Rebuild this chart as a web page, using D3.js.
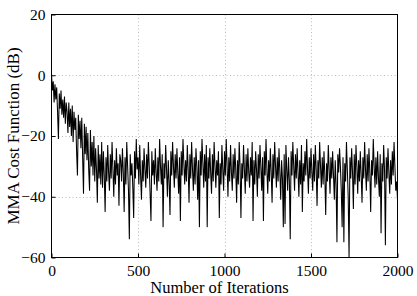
<!DOCTYPE html>
<html>
<head>
<meta charset="utf-8">
<script src="https://cdn.jsdelivr.net/npm/d3@7"></script>
<style>
  body { margin: 0; background: #fff; }
  text { font-family: "Liberation Serif", "DejaVu Serif", serif; fill: #000; }
</style>
</head>
<body>
<svg id="SVG_CONTAINER" width="417" height="296"></svg>
<script>
// iteration step between stored samples
const STEP = 5;

// cost function samples (dB), one every 5 iterations
const costDb = [
    0.5, -5, -2, -9, -3, -8, -4, -12, -21, -6, -11, -5, -13, -8, -14, -7, -16, -9, -12, -19,
    -9, -17, -11, -20, -10, -22, -12, -18, -14, -25, -33, -13, -21, -15, -24, -14, -27, -39, -16, -26,
    -17, -28, -19, -31, -38, -18, -30, -22, -33, -20, -35, -24, -31, -42, -23, -34, -26, -36, -22, -37,
    -25, -33, -45, -27, -35, -23, -32, -38, -26, -34, -22, -31, -40, -28, -36, -24, -33, -29, -43, -26,
    -28, -35, -24, -32, -45, -27, -36, -22, -30, -38, -54, -26, -33, -29, -37, -47, -25, -34, -21, -31,
    -27, -36, -23, -33, -41, -28, -35, -24, -31, -37, -26, -34, -22, -30, -39, -48, -25, -33, -28, -36,
    -24, -32, -38, -27, -35, -21, -30, -36, -26, -50, -29, -34, -23, -31, -40, -28, -35, -46, -25, -33,
    -22, -30, -37, -26, -34, -24, -32, -39, -27, -48, -25, -33, -21, -29, -36, -28, -35, -23, -31, -42,
    -26, -34, -22, -31, -38, -27, -36, -24, -30, -41, -28, -50, -25, -33, -21, -29, -37, -26, -35, -23,
    -50, -27, -34, -24, -32, -39, -26, -35, -22, -30, -37, -28, -33, -25, -47, -29, -36, -23, -31, -38,
    -25, -33, -21, -30, -40, -27, -35, -23, -32, -38, -26, -34, -24, -31, -42, -28, -36, -22, -30, -47,
    -29, -34, -23, -31, -39, -26, -35, -24, -32, -37, -27, -33, -22, -48, -28, -36, -25, -31, -40, -26,
    -34, -23, -30, -38, -27, -48, -25, -33, -21, -31, -39, -28, -35, -24, -32, -42, -26, -34, -22, -30,
    -37, -27, -35, -24, -32, -41, -28, -34, -50, -26, -49, -23, -31, -38, -27, -35, -54, -25, -33, -22,
    -30, -38, -26, -34, -24, -32, -40, -28, -36, -23, -45, -29, -35, -25, -33, -21, -31, -39, -27, -34,
    -24, -32, -38, -26, -35, -23, -31, -43, -28, -34, -22, -30, -37, -27, -36, -25, -33, -46, -29, -35,
    -23, -31, -39, -27, -34, -25, -33, -41, -28, -36, -55, -26, -32, -24, -30, -38, -50, -27, -55, -29,
    -35, -22, -31, -40, -60, -27, -34, -24, -32, -44, -26, -36, -23, -30, -39, -28, -35, -25, -33, -42,
    -27, -34, -22, -31, -38, -26, -35, -24, -32, -45, -28, -33, -21, -30, -37, -27, -36, -25, -34, -40,
    -26, -52, -29, -35, -23, -31, -56, -27, -34, -24, -32, -39, -28, -36, -25, -33, -22, -30, -38, -35,
    -41
];

const xTicks = [0, 500, 1000, 1500, 2000];
const yTicks = [20, 0, -20, -40, -60];

const MARGIN = { LEFT: 51, RIGHT: 20, TOP: 14, BOTTOM: 39 };
const width = 417, height = 296;

let svg = d3.select("#SVG_CONTAINER");

//** SCALES *****************************************
let xScale = d3.scaleLinear()
    .domain([0, 2000])
    .range([MARGIN.LEFT + 0.5, width - MARGIN.RIGHT + 0.5]);

let yScale = d3.scaleLinear()
    .domain([-60, 20])
    .range([height - MARGIN.BOTTOM + 0.5, MARGIN.TOP + 0.5]);

let x0 = xScale.range()[0], x1 = xScale.range()[1];
let yTop = yScale.range()[1], yBot = yScale.range()[0];

//** GRID *****************************************
svg.append("g")
    .selectAll("line")
    .data(xTicks.slice(1, -1))
    .enter().append("line")
    .attr("x1", d => Math.round(xScale(d)) + 0.5)
    .attr("x2", d => Math.round(xScale(d)) + 0.5)
    .attr("y1", yTop).attr("y2", yBot)
    .attr("stroke", "#aaa").attr("stroke-width", 0.8)
    .attr("stroke-dasharray", "1,2.5");

svg.append("g")
    .selectAll("line")
    .data(yTicks.slice(1, -1))
    .enter().append("line")
    .attr("y1", d => Math.round(yScale(d)) + 0.5)
    .attr("y2", d => Math.round(yScale(d)) + 0.5)
    .attr("x1", x0).attr("x2", x1)
    .attr("stroke", "#aaa").attr("stroke-width", 0.8)
    .attr("stroke-dasharray", "1,2.5");

//** DATA LINE *****************************************
let line = d3.line()
    .x((d, i) => xScale(i * STEP))
    .y(d => yScale(d));

svg.append("path")
    .datum(costDb)
    .attr("fill", "none")
    .attr("stroke", "#000")
    .attr("stroke-width", 1.05)
    .attr("stroke-linejoin", "bevel")
    .attr("d", line);

//** AXES (inward ticks, boxed) *****************************************
let xAxis = d3.axisBottom(xScale).tickValues(xTicks).tickSize(-4).tickPadding(7).tickFormat(d3.format("d"));
let yAxis = d3.axisLeft(yScale).tickValues(yTicks).tickSize(-4).tickPadding(6)
    .tickFormat(d => d < 0 ? "\u2212" + Math.abs(d) : d);

let gx = svg.append("g")
    .attr("transform", "translate(0," + yBot + ")")
    .call(xAxis);
let gy = svg.append("g")
    .attr("transform", "translate(" + x0 + ",0)")
    .call(yAxis);

[gx, gy].forEach(g => {
    g.select(".domain").remove();
    g.selectAll("line").attr("stroke", "#000");
    g.selectAll("text").style("font-size", "15.5px").attr("fill", "#000")
        .style("font-family", "'Liberation Serif', serif");
});

// frame
svg.append("rect")
    .attr("x", x0).attr("y", yTop)
    .attr("width", x1 - x0).attr("height", yBot - yTop)
    .attr("fill", "none").attr("stroke", "#000").attr("stroke-width", 1);

//** LABELS *****************************************
svg.append("text")
    .attr("x", (x0 + x1) / 2 - 5)
    .attr("y", 293)
    .attr("text-anchor", "middle")
    .style("font-size", "16.5px")
    .text("Number of Iterations");

svg.append("text")
    .attr("text-anchor", "middle")
    .attr("transform", "translate(19," + ((yTop + yBot) / 2) + ") rotate(-90)")
    .style("font-size", "17px")
    .text("MMA Cost Function (dB)");
</script>
</body>
</html>
